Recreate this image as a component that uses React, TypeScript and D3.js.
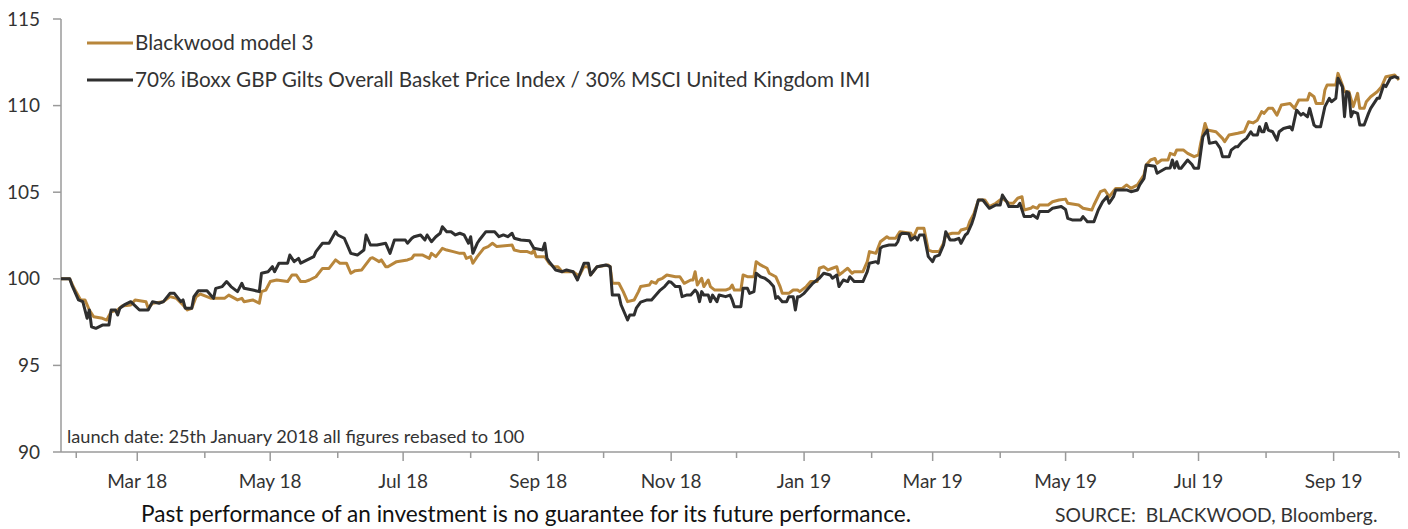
import React from "react";
import * as d3 from "d3";

// ---- data ----
const seriesNames = [
  "Blackwood model 3",
  "70% iBoxx GBP Gilts Overall Basket Price Index / 30% MSCI United Kingdom IMI",
];

const blackwoodModel3: [string, number][] = [
  ["2018-01-25", 100.0], ["2018-01-29", 100.0], ["2018-01-31", 99.45], ["2018-02-03", 98.78],
  ["2018-02-05", 98.78], ["2018-02-07", 98.2], ["2018-02-09", 97.81], ["2018-02-13", 97.72],
  ["2018-02-15", 97.62], ["2018-02-17", 98.1], ["2018-02-20", 98.2], ["2018-02-22", 98.43],
  ["2018-02-26", 98.49], ["2018-02-28", 98.78], ["2018-03-05", 98.68], ["2018-03-06", 98.3],
  ["2018-03-08", 98.59], ["2018-03-13", 98.68], ["2018-03-16", 98.97], ["2018-03-19", 98.87],
  ["2018-03-22", 98.49], ["2018-03-24", 98.2], ["2018-03-26", 98.3], ["2018-03-28", 98.97],
  ["2018-03-30", 99.12], ["2018-04-04", 98.87], ["2018-04-10", 98.87], ["2018-04-12", 99.06],
  ["2018-04-16", 98.78], ["2018-04-18", 98.87], ["2018-04-19", 98.68], ["2018-04-23", 98.78],
  ["2018-04-26", 98.59], ["2018-04-27", 99.26], ["2018-04-29", 99.35], ["2018-05-01", 99.84],
  ["2018-05-04", 99.93], ["2018-05-09", 99.84], ["2018-05-11", 100.22], ["2018-05-13", 100.22],
  ["2018-05-15", 99.84], ["2018-05-17", 99.84], ["2018-05-19", 99.93], ["2018-05-22", 100.12],
  ["2018-05-25", 100.6], ["2018-05-28", 100.6], ["2018-05-31", 101.09], ["2018-06-02", 100.9],
  ["2018-06-05", 100.9], ["2018-06-07", 100.32], ["2018-06-09", 100.47], ["2018-06-12", 100.51],
  ["2018-06-16", 101.18], ["2018-06-17", 101.22], ["2018-06-20", 100.99], ["2018-06-21", 101.09],
  ["2018-06-23", 100.7], ["2018-06-24", 100.7], ["2018-06-28", 100.99], ["2018-07-03", 101.09],
  ["2018-07-05", 101.18], ["2018-07-06", 101.37], ["2018-07-10", 101.37], ["2018-07-13", 101.18],
  ["2018-07-14", 101.47], ["2018-07-16", 101.28], ["2018-07-19", 101.76], ["2018-07-21", 101.66],
  ["2018-07-24", 101.57], ["2018-07-27", 101.47], ["2018-07-29", 101.47], ["2018-07-30", 101.18],
  ["2018-08-01", 101.28], ["2018-08-02", 100.9], ["2018-08-04", 101.28], ["2018-08-07", 101.76],
  ["2018-08-09", 101.86], ["2018-08-11", 102.05], ["2018-08-13", 101.86], ["2018-08-20", 101.95],
  ["2018-08-21", 101.66], ["2018-08-24", 101.57], ["2018-08-27", 101.57], ["2018-08-29", 101.47],
  ["2018-08-30", 101.66], ["2018-08-31", 101.28], ["2018-09-04", 101.28], ["2018-09-06", 100.9],
  ["2018-09-08", 100.7], ["2018-09-10", 100.7], ["2018-09-12", 100.41], ["2018-09-17", 100.41],
  ["2018-09-19", 100.22], ["2018-09-20", 100.22], ["2018-09-22", 100.7], ["2018-09-24", 100.7],
  ["2018-09-25", 100.22], ["2018-09-28", 100.7], ["2018-10-03", 100.8], ["2018-10-04", 100.7],
  ["2018-10-05", 99.74], ["2018-10-08", 99.74], ["2018-10-10", 99.26], ["2018-10-12", 98.68],
  ["2018-10-15", 98.78], ["2018-10-17", 99.26], ["2018-10-18", 99.55], ["2018-10-22", 99.64],
  ["2018-10-23", 99.84], ["2018-10-25", 99.74], ["2018-10-26", 99.93], ["2018-10-28", 100.03],
  ["2018-10-30", 100.22], ["2018-11-03", 100.12], ["2018-11-05", 100.12], ["2018-11-07", 99.74],
  ["2018-11-10", 99.93], ["2018-11-11", 99.93], ["2018-11-12", 100.41], ["2018-11-13", 99.64],
  ["2018-11-15", 100.03], ["2018-11-16", 99.55], ["2018-11-18", 99.93], ["2018-11-19", 99.55],
  ["2018-11-21", 99.35], ["2018-11-26", 99.35], ["2018-11-28", 99.45], ["2018-11-29", 99.64],
  ["2018-11-30", 99.35], ["2018-12-03", 99.35], ["2018-12-04", 100.22], ["2018-12-06", 100.12],
  ["2018-12-09", 100.12], ["2018-12-10", 100.99], ["2018-12-12", 100.8], ["2018-12-15", 100.61],
  ["2018-12-16", 100.32], ["2018-12-19", 100.12], ["2018-12-21", 99.55], ["2018-12-22", 99.16],
  ["2018-12-25", 99.16], ["2018-12-27", 99.35], ["2018-12-29", 99.35], ["2018-12-30", 99.26],
  ["2019-01-02", 99.55], ["2019-01-04", 99.84], ["2019-01-07", 99.84], ["2019-01-08", 100.61],
  ["2019-01-10", 100.7], ["2019-01-12", 100.51], ["2019-01-14", 100.61], ["2019-01-16", 100.7],
  ["2019-01-17", 100.22], ["2019-01-19", 100.41], ["2019-01-21", 100.61], ["2019-01-23", 100.32],
  ["2019-01-24", 100.41], ["2019-01-28", 100.41], ["2019-01-30", 100.99], ["2019-01-31", 101.57],
  ["2019-02-03", 101.47], ["2019-02-05", 102.14], ["2019-02-08", 102.43], ["2019-02-09", 102.34],
  ["2019-02-12", 102.34], ["2019-02-14", 102.72], ["2019-02-19", 102.63], ["2019-02-20", 102.34],
  ["2019-02-22", 102.92], ["2019-02-25", 102.92], ["2019-02-27", 101.66], ["2019-03-01", 101.57],
  ["2019-03-04", 101.57], ["2019-03-06", 102.05], ["2019-03-07", 102.53], ["2019-03-10", 102.63],
  ["2019-03-13", 102.63], ["2019-03-14", 102.82], ["2019-03-17", 102.92], ["2019-03-18", 103.3],
  ["2019-03-20", 103.78], ["2019-03-22", 104.55], ["2019-03-25", 104.55], ["2019-03-27", 104.17],
  ["2019-03-30", 104.36], ["2019-04-02", 104.65], ["2019-04-05", 104.36], ["2019-04-07", 104.36],
  ["2019-04-09", 104.65], ["2019-04-11", 104.74], ["2019-04-12", 103.97], ["2019-04-15", 104.07],
  ["2019-04-16", 104.17], ["2019-04-18", 104.07], ["2019-04-19", 104.26], ["2019-04-23", 104.26],
  ["2019-04-25", 104.45], ["2019-04-28", 104.55], ["2019-05-01", 104.6], ["2019-05-02", 104.36],
  ["2019-05-07", 104.26], ["2019-05-09", 104.07], ["2019-05-13", 103.97], ["2019-05-14", 104.26],
  ["2019-05-17", 105.03], ["2019-05-19", 105.13], ["2019-05-21", 104.74], ["2019-05-24", 105.22],
  ["2019-05-27", 105.22], ["2019-05-29", 105.42], ["2019-05-31", 105.22], ["2019-06-03", 105.42],
  ["2019-06-06", 106.0], ["2019-06-07", 106.57], ["2019-06-09", 106.86], ["2019-06-11", 106.95],
  ["2019-06-12", 106.67], ["2019-06-14", 106.86], ["2019-06-17", 106.86], ["2019-06-18", 107.24],
  ["2019-06-20", 107.15], ["2019-06-21", 107.44], ["2019-06-24", 107.44], ["2019-06-26", 107.24],
  ["2019-06-29", 107.05], ["2019-07-01", 107.15], ["2019-07-02", 107.82], ["2019-07-04", 108.97],
  ["2019-07-05", 108.59], ["2019-07-09", 108.49], ["2019-07-12", 108.11], ["2019-07-13", 107.92],
  ["2019-07-15", 108.3], ["2019-07-19", 108.4], ["2019-07-22", 108.49], ["2019-07-24", 109.07],
  ["2019-07-26", 109.0], ["2019-07-28", 109.16], ["2019-07-30", 109.65], ["2019-07-31", 109.55],
  ["2019-08-02", 109.84], ["2019-08-04", 109.84], ["2019-08-06", 109.45], ["2019-08-08", 110.03],
  ["2019-08-12", 110.12], ["2019-08-14", 109.84], ["2019-08-16", 110.32], ["2019-08-20", 110.32],
  ["2019-08-21", 110.71], ["2019-08-23", 110.51], ["2019-08-24", 110.12], ["2019-08-27", 110.12],
  ["2019-08-28", 110.9], ["2019-08-29", 111.19], ["2019-09-02", 111.19], ["2019-09-03", 111.86],
  ["2019-09-05", 111.19], ["2019-09-06", 110.8], ["2019-09-08", 110.8], ["2019-09-10", 109.94],
  ["2019-09-12", 110.71], ["2019-09-13", 109.84], ["2019-09-15", 109.84], ["2019-09-16", 110.22],
  ["2019-09-18", 110.51], ["2019-09-21", 110.8], ["2019-09-23", 111.09], ["2019-09-25", 111.67],
  ["2019-09-29", 111.77], ["2019-10-01", 111.48],
];

const benchmark: [string, number][] = [
  ["2018-01-25", 100.0], ["2018-01-29", 100.0], ["2018-01-30", 99.64], ["2018-02-02", 98.78],
  ["2018-02-04", 98.68], ["2018-02-06", 97.72], ["2018-02-07", 98.2], ["2018-02-08", 97.23],
  ["2018-02-10", 97.14], ["2018-02-13", 97.33], ["2018-02-16", 97.33], ["2018-02-17", 98.2],
  ["2018-02-19", 98.2], ["2018-02-20", 97.91], ["2018-02-21", 98.3], ["2018-02-23", 98.49],
  ["2018-02-26", 98.68], ["2018-03-02", 98.2], ["2018-03-06", 98.2], ["2018-03-08", 98.68],
  ["2018-03-11", 98.59], ["2018-03-13", 98.68], ["2018-03-16", 99.16], ["2018-03-18", 99.16],
  ["2018-03-21", 98.68], ["2018-03-22", 98.78], ["2018-03-23", 98.3], ["2018-03-26", 98.3],
  ["2018-03-27", 98.97], ["2018-03-29", 99.31], ["2018-04-02", 99.31], ["2018-04-05", 98.87],
  ["2018-04-06", 99.45], ["2018-04-09", 99.55], ["2018-04-11", 99.84], ["2018-04-13", 99.55],
  ["2018-04-16", 99.26], ["2018-04-18", 99.74], ["2018-04-19", 99.45], ["2018-04-23", 99.35],
  ["2018-04-26", 99.26], ["2018-04-27", 100.32], ["2018-04-30", 100.41], ["2018-05-02", 100.7],
  ["2018-05-03", 100.41], ["2018-05-05", 100.9], ["2018-05-09", 100.9], ["2018-05-10", 101.37],
  ["2018-05-12", 100.99], ["2018-05-14", 101.18], ["2018-05-15", 100.9], ["2018-05-18", 101.09],
  ["2018-05-21", 101.28], ["2018-05-22", 101.57], ["2018-05-25", 102.05], ["2018-05-28", 102.05],
  ["2018-05-31", 102.72], ["2018-06-01", 102.53], ["2018-06-04", 102.34], ["2018-06-07", 101.47],
  ["2018-06-10", 101.37], ["2018-06-13", 101.66], ["2018-06-14", 102.53], ["2018-06-16", 101.95],
  ["2018-06-19", 101.95], ["2018-06-23", 102.05], ["2018-06-25", 101.47], ["2018-06-27", 102.24],
  ["2018-07-02", 102.24], ["2018-07-03", 102.05], ["2018-07-05", 102.34], ["2018-07-06", 102.43],
  ["2018-07-09", 102.53], ["2018-07-11", 102.24], ["2018-07-12", 102.53], ["2018-07-14", 102.14],
  ["2018-07-16", 102.43], ["2018-07-18", 102.63], ["2018-07-19", 103.01], ["2018-07-21", 102.72],
  ["2018-07-23", 102.72], ["2018-07-25", 102.53], ["2018-07-27", 102.63], ["2018-07-29", 102.53],
  ["2018-07-31", 102.05], ["2018-08-01", 102.43], ["2018-08-02", 101.47], ["2018-08-04", 102.05],
  ["2018-08-05", 102.24], ["2018-08-08", 102.72], ["2018-08-12", 102.72], ["2018-08-14", 102.43],
  ["2018-08-16", 102.53], ["2018-08-18", 102.43], ["2018-08-20", 102.63], ["2018-08-21", 102.34],
  ["2018-08-24", 102.24], ["2018-08-28", 102.2], ["2018-08-30", 101.76], ["2018-09-03", 101.66],
  ["2018-09-04", 102.05], ["2018-09-05", 101.18], ["2018-09-06", 100.99], ["2018-09-09", 100.51],
  ["2018-09-12", 100.41], ["2018-09-14", 100.51], ["2018-09-17", 100.41], ["2018-09-19", 99.93],
  ["2018-09-22", 100.9], ["2018-09-24", 100.9], ["2018-09-25", 100.22], ["2018-09-28", 100.7],
  ["2018-10-02", 100.8], ["2018-10-04", 100.7], ["2018-10-05", 99.06], ["2018-10-08", 99.06],
  ["2018-10-09", 98.5], ["2018-10-12", 97.62], ["2018-10-13", 97.91], ["2018-10-15", 97.91],
  ["2018-10-16", 98.3], ["2018-10-18", 98.65], ["2018-10-21", 98.78], ["2018-10-23", 98.78],
  ["2018-10-25", 99.06], ["2018-10-27", 99.35], ["2018-10-29", 99.55], ["2018-10-31", 99.84],
  ["2018-11-01", 99.8], ["2018-11-03", 99.55], ["2018-11-05", 99.55], ["2018-11-06", 98.97],
  ["2018-11-08", 99.06], ["2018-11-10", 99.06], ["2018-11-12", 99.35], ["2018-11-13", 99.2],
  ["2018-11-14", 98.68], ["2018-11-15", 99.26], ["2018-11-16", 99.06], ["2018-11-18", 99.06],
  ["2018-11-19", 98.68], ["2018-11-20", 99.06], ["2018-11-22", 98.68], ["2018-11-23", 99.06],
  ["2018-11-26", 98.97], ["2018-11-28", 99.06], ["2018-11-29", 98.78], ["2018-11-30", 98.39],
  ["2018-12-03", 98.39], ["2018-12-04", 99.45], ["2018-12-06", 99.45], ["2018-12-07", 99.16],
  ["2018-12-09", 99.26], ["2018-12-10", 100.32], ["2018-12-12", 100.12], ["2018-12-14", 100.03],
  ["2018-12-16", 99.84], ["2018-12-18", 99.55], ["2018-12-19", 98.87], ["2018-12-20", 98.97],
  ["2018-12-22", 98.68], ["2018-12-24", 98.68], ["2018-12-25", 98.97], ["2018-12-27", 98.97],
  ["2018-12-28", 98.2], ["2018-12-29", 98.97], ["2018-12-30", 98.97], ["2019-01-01", 99.16],
  ["2019-01-03", 99.45], ["2019-01-05", 99.74], ["2019-01-08", 100.03], ["2019-01-10", 100.32],
  ["2019-01-13", 100.22], ["2019-01-14", 100.03], ["2019-01-16", 100.22], ["2019-01-17", 99.55],
  ["2019-01-19", 99.93], ["2019-01-21", 99.84], ["2019-01-22", 100.12], ["2019-01-24", 99.84],
  ["2019-01-28", 99.84], ["2019-01-30", 100.41], ["2019-01-31", 100.9], ["2019-02-03", 100.99],
  ["2019-02-04", 100.9], ["2019-02-05", 101.76], ["2019-02-06", 101.86], ["2019-02-09", 101.95],
  ["2019-02-12", 101.95], ["2019-02-13", 102.14], ["2019-02-14", 102.53], ["2019-02-15", 102.63],
  ["2019-02-18", 102.6], ["2019-02-19", 102.24], ["2019-02-21", 102.43], ["2019-02-22", 102.24],
  ["2019-02-23", 102.53], ["2019-02-25", 102.53], ["2019-02-27", 101.28], ["2019-03-01", 100.99],
  ["2019-03-02", 101.28], ["2019-03-04", 101.37], ["2019-03-06", 101.95], ["2019-03-07", 102.72],
  ["2019-03-09", 102.24], ["2019-03-11", 102.24], ["2019-03-13", 102.34], ["2019-03-14", 102.05],
  ["2019-03-16", 102.53], ["2019-03-17", 102.63], ["2019-03-19", 103.2], ["2019-03-20", 103.59],
  ["2019-03-22", 104.55], ["2019-03-24", 104.55], ["2019-03-27", 104.07], ["2019-03-30", 104.26],
  ["2019-04-01", 104.26], ["2019-04-02", 104.84], ["2019-04-04", 104.45], ["2019-04-05", 104.17],
  ["2019-04-09", 104.17], ["2019-04-10", 104.36], ["2019-04-12", 103.59], ["2019-04-15", 103.59],
  ["2019-04-16", 103.68], ["2019-04-18", 103.49], ["2019-04-19", 103.88], ["2019-04-23", 103.88],
  ["2019-04-25", 104.07], ["2019-04-29", 104.17], ["2019-05-01", 104.0], ["2019-05-02", 103.49],
  ["2019-05-04", 103.4], ["2019-05-08", 103.4], ["2019-05-09", 103.59], ["2019-05-11", 103.3],
  ["2019-05-14", 103.3], ["2019-05-16", 103.97], ["2019-05-18", 104.45], ["2019-05-20", 104.74],
  ["2019-05-21", 104.36], ["2019-05-23", 104.74], ["2019-05-24", 105.13], ["2019-05-29", 105.13],
  ["2019-05-31", 105.03], ["2019-06-03", 105.13], ["2019-06-04", 105.42], ["2019-06-06", 105.8],
  ["2019-06-07", 106.57], ["2019-06-11", 106.5], ["2019-06-12", 106.09], ["2019-06-16", 106.38],
  ["2019-06-18", 106.4], ["2019-06-19", 106.86], ["2019-06-20", 106.4], ["2019-06-21", 106.76],
  ["2019-06-22", 106.38], ["2019-06-23", 106.38], ["2019-06-26", 106.86], ["2019-06-28", 106.6],
  ["2019-06-29", 106.38], ["2019-07-01", 106.38], ["2019-07-03", 108.2], ["2019-07-05", 108.59],
  ["2019-07-06", 107.82], ["2019-07-09", 107.9], ["2019-07-11", 107.53], ["2019-07-12", 107.05],
  ["2019-07-15", 107.05], ["2019-07-16", 107.43], ["2019-07-17", 107.53], ["2019-07-18", 107.62],
  ["2019-07-19", 107.62], ["2019-07-21", 107.92], ["2019-07-23", 108.11], ["2019-07-25", 108.49],
  ["2019-07-26", 108.3], ["2019-07-28", 108.3], ["2019-07-29", 108.78], ["2019-07-30", 108.49],
  ["2019-07-31", 108.49], ["2019-08-01", 108.97], ["2019-08-02", 108.59], ["2019-08-04", 108.49],
  ["2019-08-06", 108.01], ["2019-08-07", 108.49], ["2019-08-09", 108.68], ["2019-08-12", 108.78],
  ["2019-08-13", 108.59], ["2019-08-15", 109.74], ["2019-08-17", 109.45], ["2019-08-18", 109.55],
  ["2019-08-20", 109.35], ["2019-08-21", 109.84], ["2019-08-23", 108.88], ["2019-08-24", 108.78],
  ["2019-08-26", 108.78], ["2019-08-28", 109.94], ["2019-08-30", 110.42], ["2019-08-31", 110.22],
  ["2019-09-02", 110.42], ["2019-09-03", 111.58], ["2019-09-05", 111.09], ["2019-09-06", 109.36],
  ["2019-09-07", 110.8], ["2019-09-08", 110.71], ["2019-09-09", 109.36], ["2019-09-10", 109.65],
  ["2019-09-12", 109.55], ["2019-09-13", 108.88], ["2019-09-15", 108.88], ["2019-09-17", 109.55],
  ["2019-09-18", 109.84], ["2019-09-21", 110.42], ["2019-09-22", 110.42], ["2019-09-24", 111.19],
  ["2019-09-25", 111.1], ["2019-09-27", 111.58], ["2019-09-29", 111.67], ["2019-10-01", 111.58],
];

const yTicks = [90, 95, 100, 105, 110, 115];
const dateDomain = ["2018-01-25", "2019-10-01"];
const annotation = "launch date: 25th January 2018 all figures rebased to 100";
const footerNote = "Past performance of an investment is no guarantee for its future performance.";
const sourceNote = "SOURCE:  BLACKWOOD, Bloomberg.";

const GOLD = "#b8863b";
const DARK = "#2f2f2f";
const AXIS = "#9a9a9a";
const TEXT = "#333333";
const FONT = "Lato, 'Open Sans', sans-serif";

export default function App() {
  const W = 1408, H = 529;
  const left = 61, right = 1399, top = 19, bottom = 452;
  const parse = d3.timeParse("%Y-%m-%d");
  const x = d3.scaleTime().domain(dateDomain.map((s) => parse(s) as Date)).range([left, right]);
  const y = d3.scaleLinear().domain([90, 115]).range([bottom, top]);
  const line = d3
    .line<[string, number]>()
    .x((d) => x(parse(d[0]) as Date))
    .y((d) => y(d[1]));

  const months = d3.timeMonth.range(new Date(2018, 1, 1), new Date(2019, 9, 2));
  const fmt = d3.timeFormat("%b %y");

  return (
    <svg width={W} height={H} style={{ position: "absolute", left: 0, top: 0, background: "#fff" }} fontFamily={FONT}>
      {/* y axis */}
      <line x1={left} x2={left} y1={top} y2={bottom} stroke={AXIS} strokeWidth={1.5} />
      {yTicks.map((t) => (
        <g key={t}>
          <line x1={left - 8} x2={left} y1={y(t)} y2={y(t)} stroke={AXIS} strokeWidth={1.5} />
          <text x={40} y={y(t)} dy="0.35em" textAnchor="end" fontSize={19} fill={TEXT}>
            {t}
          </text>
        </g>
      ))}
      {/* x axis */}
      <line x1={left} x2={right} y1={bottom} y2={bottom} stroke={AXIS} strokeWidth={1.5} />
      {months.map((m) => {
        const labeled = m.getMonth() % 2 === 0;
        const xx = x(m);
        return (
          <g key={m.toISOString()}>
            <line x1={xx} x2={xx} y1={bottom} y2={bottom + (labeled ? 9 : 6)} stroke={AXIS} strokeWidth={1.5} />
            {labeled && (
              <text x={xx} y={488} textAnchor="middle" fontSize={19} fill={TEXT}>
                {fmt(m)}
              </text>
            )}
          </g>
        );
      })}

      {/* lines */}
      <path d={line(blackwoodModel3) || ""} fill="none" stroke={GOLD} strokeWidth={3} strokeLinejoin="round" />
      <path d={line(benchmark) || ""} fill="none" stroke={DARK} strokeWidth={3} strokeLinejoin="round" />

      {/* legend */}
      {seriesNames.map((n, i) => (
        <g key={n}>
          <line x1={87} x2={133} y1={43 + i * 37} y2={43 + i * 37} stroke={i === 0 ? GOLD : DARK} strokeWidth={3} />
          <text x={135} y={43 + i * 37} dy="0.35em" fontSize={20.7} fill={TEXT}>
            {n}
          </text>
        </g>
      ))}

      {/* annotation */}
      <text x={67} y={443} fontSize={18.2} fill={TEXT}>
        {annotation}
      </text>

      {/* footer */}
      <text x={141} y={522} fontSize={22.6} fill="#111">
        {footerNote}
      </text>
      <text x={1055} y={522} fontSize={19.3} fill={TEXT} style={{ whiteSpace: "pre" }}>
        {sourceNote}
      </text>
    </svg>
  );
}
